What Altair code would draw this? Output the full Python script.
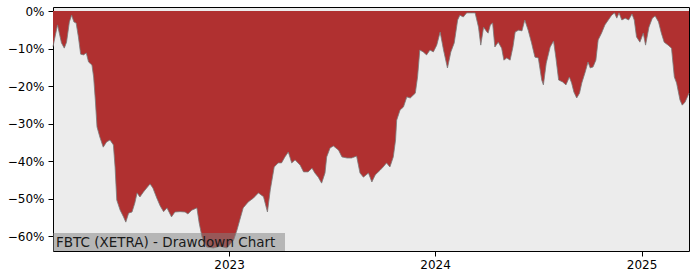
import altair as alt
import pandas as pd

dates = [
    "2022-02-23", "2022-03-03", "2022-03-10", "2022-03-15", "2022-03-19", "2022-03-24",
    "2022-03-28", "2022-04-01", "2022-04-05", "2022-04-09", "2022-04-13", "2022-04-18",
    "2022-04-23", "2022-04-27", "2022-05-03", "2022-05-06", "2022-05-09", "2022-05-12",
    "2022-05-17", "2022-05-23", "2022-05-29", "2022-06-04", "2022-06-10", "2022-06-13",
    "2022-06-16", "2022-06-22", "2022-06-28", "2022-07-02", "2022-07-07", "2022-07-13",
    "2022-07-18", "2022-07-22", "2022-07-27", "2022-08-02", "2022-08-08", "2022-08-14",
    "2022-08-19", "2022-08-26", "2022-09-01", "2022-09-07", "2022-09-13", "2022-09-21",
    "2022-09-27", "2022-10-06", "2022-10-15", "2022-10-20", "2022-10-27", "2022-11-05",
    "2022-11-09", "2022-11-14", "2022-11-22", "2022-12-04", "2022-12-16", "2022-12-28",
    "2023-01-09", "2023-01-15", "2023-01-20", "2023-01-26", "2023-02-04", "2023-02-13",
    "2023-02-22", "2023-03-03", "2023-03-10", "2023-03-15", "2023-03-22", "2023-03-29",
    "2023-04-04", "2023-04-10", "2023-04-16", "2023-04-22", "2023-04-28", "2023-05-07",
    "2023-05-13", "2023-05-21", "2023-05-28", "2023-06-02", "2023-06-08", "2023-06-14",
    "2023-06-20", "2023-06-23", "2023-06-29", "2023-07-05", "2023-07-14", "2023-07-20",
    "2023-07-29", "2023-08-06", "2023-08-15", "2023-08-21", "2023-08-27", "2023-09-05",
    "2023-09-11", "2023-09-17", "2023-09-26", "2023-10-01", "2023-10-07", "2023-10-13",
    "2023-10-19", "2023-10-23", "2023-10-25", "2023-10-31", "2023-11-06", "2023-11-12",
    "2023-11-18", "2023-11-27", "2023-12-01", "2023-12-05", "2023-12-11", "2023-12-17",
    "2023-12-23", "2023-12-29", "2024-01-04", "2024-01-10", "2024-01-16", "2024-01-23",
    "2024-01-29", "2024-02-04", "2024-02-10", "2024-02-14", "2024-02-20", "2024-02-26",
    "2024-03-06", "2024-03-12", "2024-03-18", "2024-03-22", "2024-03-27", "2024-04-02",
    "2024-04-04", "2024-04-08", "2024-04-12", "2024-04-16", "2024-04-22", "2024-04-28",
    "2024-05-02", "2024-05-07", "2024-05-13", "2024-05-18", "2024-05-22", "2024-05-28",
    "2024-06-03", "2024-06-08", "2024-06-14", "2024-06-20", "2024-06-26", "2024-07-02",
    "2024-07-08", "2024-07-11", "2024-07-16", "2024-07-23", "2024-07-29", "2024-08-02",
    "2024-08-07", "2024-08-14", "2024-08-20", "2024-08-26", "2024-08-30", "2024-09-03",
    "2024-09-08", "2024-09-13", "2024-09-17", "2024-09-23", "2024-09-28", "2024-10-02",
    "2024-10-07", "2024-10-12", "2024-10-16", "2024-10-22", "2024-10-28", "2024-11-03",
    "2024-11-09", "2024-11-14", "2024-11-18", "2024-11-22", "2024-11-27", "2024-12-03",
    "2024-12-09", "2024-12-15", "2024-12-19", "2024-12-23", "2024-12-29", "2025-01-04",
    "2025-01-08", "2025-01-14", "2025-01-20", "2025-01-25", "2025-01-31", "2025-02-05",
    "2025-02-10", "2025-02-17", "2025-02-23", "2025-02-28", "2025-03-04", "2025-03-10",
    "2025-03-14", "2025-03-19", "2025-03-26",
]

drawdown = [
    -9.5, -3.7, -8.5, -9.9, -8.3, -2.9,
    -1.1, -2.9, -3.2, -6.9, -11.5, -11.7,
    -11.2, -13.6, -14.4, -17.6, -23.7, -30.9,
    -33.6, -36.3, -34.9, -34.4, -35.7, -41.6,
    -50.4, -53.1, -54.9, -56.3, -53.9, -53.6,
    -51.2, -48.5, -49.6, -48.3, -47.2, -46.1,
    -47.2, -49.9, -52.0, -53.5, -52.5, -54.9,
    -53.6, -53.5, -53.6, -54.1, -53.1, -52.5,
    -56.5, -60.2, -62.9, -63.2, -62.7, -63.2,
    -61.1, -58.4, -55.7, -52.5, -50.9, -49.9,
    -48.5, -49.5, -53.6, -47.7, -41.6, -40.5,
    -40.5, -38.9, -37.6, -40.5, -39.7, -41.1,
    -42.9, -42.9, -41.9, -43.2, -44.3, -45.9,
    -43.2, -38.9, -36.5, -36.0, -37.1, -38.9,
    -39.2, -39.2, -38.7, -43.2, -44.3, -43.2,
    -45.6, -43.7, -42.4, -41.6, -40.5, -41.6,
    -38.9, -34.4, -29.1, -26.4, -25.6, -22.9,
    -23.2, -21.9, -17.6, -10.4, -10.9, -11.7,
    -10.4, -10.9, -9.1, -5.6, -10.4, -15.2,
    -10.9, -8.5, -2.4, -1.1, -1.6, -0.5,
    -0.5, -0.5, -4.3, -9.1, -4.3, -5.6,
    -5.9, -3.7, -3.2, -9.6, -8.3, -9.9,
    -13.1, -12.5, -13.1, -9.6, -5.6, -5.1,
    -5.3, -2.4, -5.1, -8.5, -12.3, -12.5,
    -18.4, -19.7, -13.9, -9.6, -8.0, -12.3,
    -18.4, -18.9, -19.7, -17.6, -19.2, -21.6,
    -23.2, -21.9, -19.2, -16.3, -13.6, -15.2,
    -14.9, -13.1, -7.7, -5.9, -3.7, -2.4,
    -1.1, -0.5, -1.9, -0.5, -2.4, -1.9,
    -2.4, -0.8, -2.4, -6.9, -8.3, -5.9,
    -9.1, -4.3, -1.9, -1.3, -2.9, -5.9,
    -8.3, -9.1, -9.9, -17.6, -19.2, -23.7,
    -25.1, -24.3, -21.9,
]

year_ticks = [2023, 2024, 2025]
y_ticks = [-60, -50, -40, -30, -20, -10, 0]
title_text = "FBTC (XETRA) - Drawdown Chart"

df = pd.DataFrame({"date": dates, "dd": drawdown})
df_label = pd.DataFrame({"t": [title_text]})

W, H = 636, 244
FONT = "DejaVu Sans"

x_enc = alt.X(
    "date:T",
    scale=alt.Scale(type="utc", nice=False),
    axis=alt.Axis(
        values=[alt.DateTime(year=y, month=1, date=1, utc=True) for y in year_ticks],
        format="%Y",
        title=None,
        grid=False,
        domain=False,
        ticks=True,
        tickSize=5,
        tickColor="black",
        labelFontSize=12,
        labelFont=FONT,
        labelColor="black",
        labelPadding=3,
    ),
)
y_scale = alt.Scale(domain=[-64.0, 1.07], nice=False, zero=False)
y_enc = alt.Y(
    "dd:Q",
    scale=y_scale,
    axis=alt.Axis(
        values=y_ticks,
        labelExpr="format(datum.value, 'd') + '%'",
        title=None,
        grid=False,
        domain=False,
        tickSize=5,
        tickColor="black",
        labelFontSize=12,
        labelFont=FONT,
        labelColor="black",
        labelPadding=4,
    ),
)

area = alt.Chart(df).mark_area(color="#b03030", opacity=1, interpolate="linear").encode(
    x=x_enc, y=y_enc, y2=alt.datum(0)
)
edge = alt.Chart(df).mark_line(color="#7a7a7a", strokeWidth=1, opacity=0.8).encode(
    x="date:T", y="dd:Q"
)

box = alt.Chart(df_label).mark_rect(color="#808080", opacity=0.5).encode(
    x=alt.value(0), x2=alt.value(232), y=alt.value(226), y2=alt.value(H)
)
label = alt.Chart(df_label).mark_text(
    align="left", baseline="alphabetic", fontSize=13.5, font=FONT, color="#1a1a1a"
).encode(text="t:N", x=alt.value(3), y=alt.value(240))

chart = (
    alt.layer(area, edge, box, label)
    .properties(
        width=W,
        height=H,
        autosize=alt.AutoSizeParams(type="none"),
        padding={"left": 53, "top": 7, "right": 11, "bottom": 29},
        background="white",
    )
    .configure_view(fill="#ececec", stroke="black", strokeWidth=1)
)

chart.save("out.html", embed_options={"renderer": "svg", "actions": False})
